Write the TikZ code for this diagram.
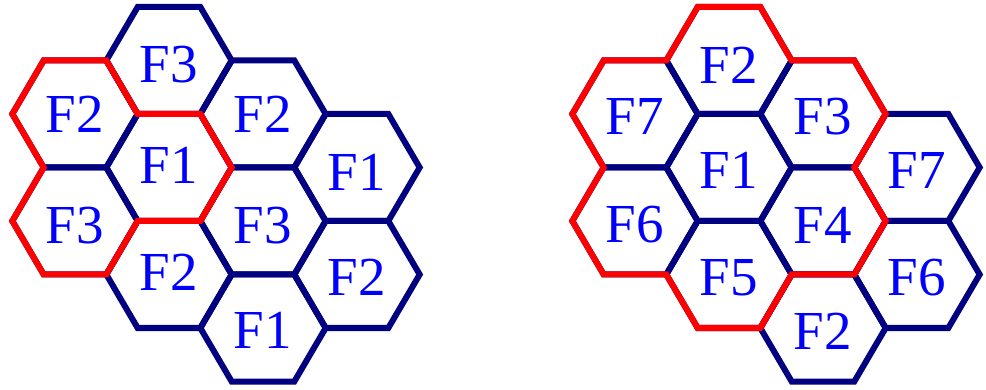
\documentclass[tikz,border=0pt]{standalone}
\usepackage{fontspec}
\setmainfont{Liberation Serif}
\definecolor{hexnavy}{RGB}{0,0,128}
\newcommand\hexcell[2]{\draw[cell] ({#1+62.667},{#2}) -- ({#1+31.333},{#2+53.5}) -- ({#1-31.333},{#2+53.5}) -- ({#1-62.667},{#2}) -- ({#1-31.333},{#2-53.5}) -- ({#1+31.333},{#2-53.5}) -- cycle;}
\begin{document}
\begin{tikzpicture}[x=1pt,y=-1pt,
  cell/.style={draw=hexnavy,line width=6pt,line join=miter},
  zone/.style={draw=red,line width=6pt,line join=miter},
  lbl/.style={text=blue,font=\fontsize{55}{60}\selectfont,inner sep=0pt}]
\useasboundingbox (0,0) rectangle (986,390);
% left cluster cells
\hexcell{75}{114}
\hexcell{75}{221}
\hexcell{169}{60.5}
\hexcell{169}{167.5}
\hexcell{169}{274.5}
\hexcell{263}{114}
\hexcell{263}{221}
\hexcell{263}{328}
\hexcell{357}{167.5}
\hexcell{357}{274.5}
% right cluster cells
\hexcell{635}{114}
\hexcell{635}{221}
\hexcell{729}{60.5}
\hexcell{729}{167.5}
\hexcell{729}{274.5}
\hexcell{823}{114}
\hexcell{823}{221}
\hexcell{823}{328}
\hexcell{917}{167.5}
\hexcell{917}{274.5}
% red cluster outlines
\draw[zone] (12.333,114) -- (43.667,60.5) -- (106.333,60.5) -- (137.667,114) -- (200.333,114) -- (231.667,167.5) -- (200.333,221) -- (137.667,221) -- (106.333,274.5) -- (43.667,274.5) -- (12.333,221) -- (43.667,167.5) -- cycle;
\draw[zone] (666.333,60.5) -- (697.667,7) -- (760.333,7) -- (791.667,60.5) -- (854.333,60.5) -- (885.667,114) -- (854.333,167.5) -- (885.667,221) -- (854.333,274.5) -- (791.667,274.5) -- (760.333,328) -- (697.667,328) -- (666.333,274.5) -- (603.667,274.5) -- (572.333,221) -- (603.667,167.5) -- (572.333,114) -- (603.667,60.5) -- cycle;
% left labels
\node[lbl] (la) at (75,114.2) {F2};
\node[lbl] (lb) at (75,225.8) {F3};
\node[lbl] (lc) at (169,65) {F3};
\node[lbl] (ld) at (169,165) {F1};
\node[lbl] (le) at (169,272.5) {F2};
\node[lbl] (lf) at (263,114.2) {F2};
\node[lbl] (lg) at (263,225.8) {F3};
\node[lbl] (lh) at (263,330.8) {F1};
\node[lbl] (li) at (357,172.5) {F1};
\node[lbl] (lj) at (357,277.5) {F2};
% right labels
\node[lbl] (ra) at (635,116.7) {F7};
\node[lbl] (rb) at (635,225) {F6};
\node[lbl] (rc) at (729,65) {F2};
\node[lbl] (rd) at (729,170.8) {F1};
\node[lbl] (re) at (729,277.5) {F5};
\node[lbl] (rf) at (823,116.7) {F3};
\node[lbl] (rg) at (823,225) {F4};
\node[lbl] (rh) at (823,331.7) {F2};
\node[lbl] (ri) at (917,170.8) {F7};
\node[lbl] (rj) at (917,277.5) {F6};
\end{tikzpicture}
\end{document}
